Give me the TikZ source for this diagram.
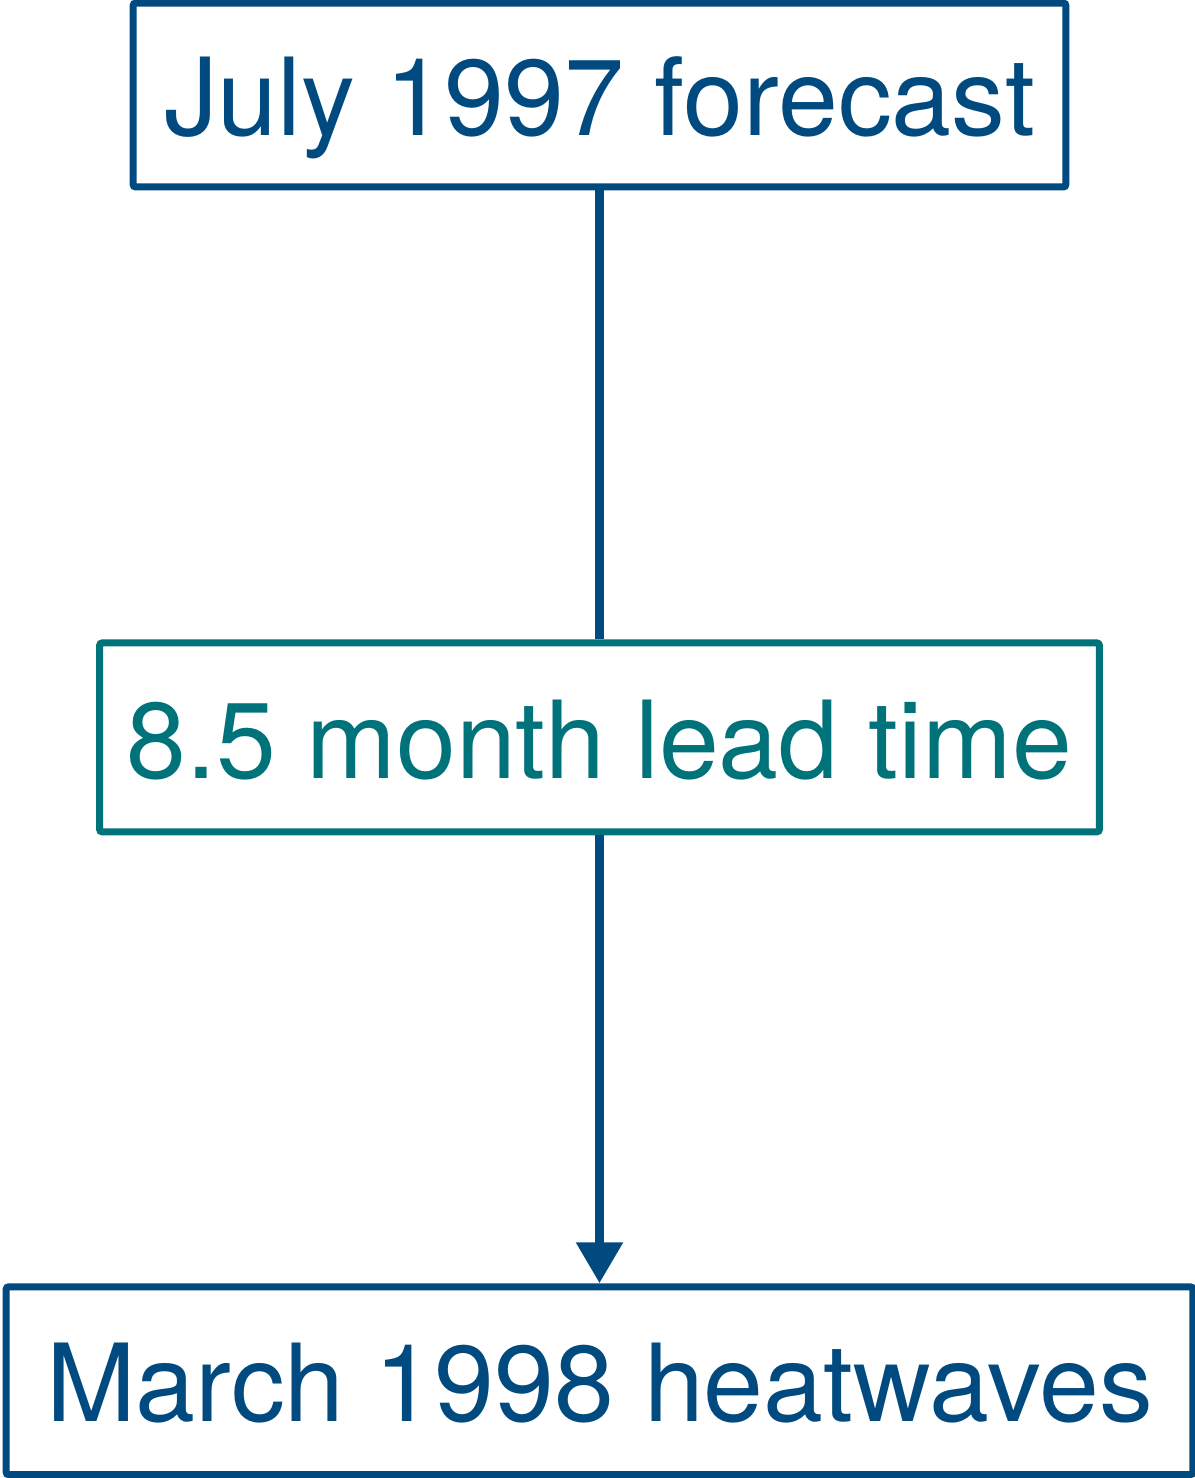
\documentclass[tikz,border=0pt]{standalone}
\usepackage{fontspec}
\setmainfont{TeX Gyre Heros}
\usepackage{tikz}
\usetikzlibrary{arrows.meta,positioning}
\definecolor{FcBlue}{HTML}{004A80}
\definecolor{LeadTeal}{HTML}{00727A}
\begin{document}
\begin{tikzpicture}[
x=0.02cm,y=-0.02cm,
node distance=8.98cm,
box/.style={draw,line width=0.14cm,rounded corners=1.5pt,align=center,inner sep=0pt,
  font=\fontsize{61.3}{72}\selectfont,text height=1.64cm,text depth=0pt},
arr/.style={-{Triangle[length=0.82cm,width=0.9cm]},line width=0.18cm}
]
\useasboundingbox (0,0) rectangle (1194,1478);
\node[box,draw=FcBlue,text=FcBlue,minimum width=18.66cm,minimum height=3.68cm] (fc) at (599.5,95) {July 1997 forecast};
\node[box,draw=LeadTeal,text=LeadTeal,below=of fc,minimum width=20cm,minimum height=3.78cm] (lead) {8.5 month lead time};
\node[box,draw=FcBlue,text=FcBlue,below=8.96cm of lead,minimum width=23.74cm,minimum height=3.76cm] (heat) {March 1998 heatwaves};
\draw[line width=0.18cm,FcBlue] (fc) -- (lead);
\draw[arr,FcBlue] (lead) -- (heat);
\end{tikzpicture}
\end{document}
